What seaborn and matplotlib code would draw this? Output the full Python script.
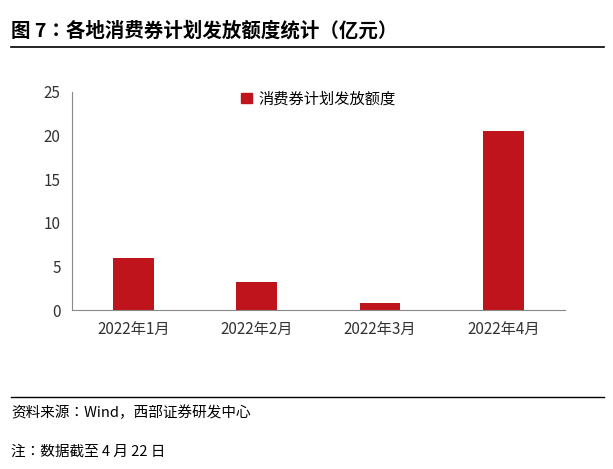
import matplotlib
matplotlib.use("Agg")
import matplotlib.pyplot as plt
import seaborn as sns
import pandas as pd
from matplotlib.lines import Line2D
from matplotlib.patches import Patch

categories = ["2022年1月", "2022年2月", "2022年3月", "2022年4月"]
values = [6.0, 3.2, 0.8, 20.5]
series_name = "消费券计划发放额度"

plt.rcParams["font.family"] = "sans-serif"
plt.rcParams["font.sans-serif"] = ["Noto Sans CJK SC", "Noto Sans CJK JP", "Noto Sans CJK TC", "DejaVu Sans"]
df = pd.DataFrame({"month": categories, "value": values})

fig = plt.figure(figsize=(6.13, 4.69), dpi=100)
ax = fig.add_axes([0.117, 0.339, 0.805, 0.465])
sns.barplot(data=df, x="month", y="value", color="#C0141C", width=0.33, ax=ax, saturation=1)
ax.set_ylim(0, 25)
ax.set_yticks([0, 5, 10, 15, 20, 25])
ax.set_xlabel(""); ax.set_ylabel("")
for s in ["top", "right"]:
    ax.spines[s].set_visible(False)
for s in ["left", "bottom"]:
    ax.spines[s].set_color("#888888")
ax.tick_params(axis="both", labelsize=11, colors="#333333", length=0)
ax.tick_params(axis="y", pad=8)
ax.tick_params(axis="x", pad=8)
ax.legend(handles=[Patch(color="#C0141C", label=series_name)], loc="upper center",
          bbox_to_anchor=(0.5, 1.07), frameon=False, fontsize=11, handlelength=0.7,
          handleheight=0.7, handletextpad=0.4)

fig.text(0.018, 0.935, "图 7：各地消费券计划发放额度统计（亿元）", fontsize=14, fontweight="bold", va="center")
fig.add_artist(Line2D([0.018, 0.985], [0.9, 0.9], color="black", lw=1.2))
fig.add_artist(Line2D([0.018, 0.985], [0.153, 0.153], color="black", lw=1.0))
fig.text(0.018, 0.12, "资料来源：Wind，西部证券研发中心", fontsize=10.5, va="center")
fig.text(0.018, 0.036, "注：数据截至 4 月 22 日", fontsize=10.5, va="center")
fig.savefig("out.png", dpi=100)
